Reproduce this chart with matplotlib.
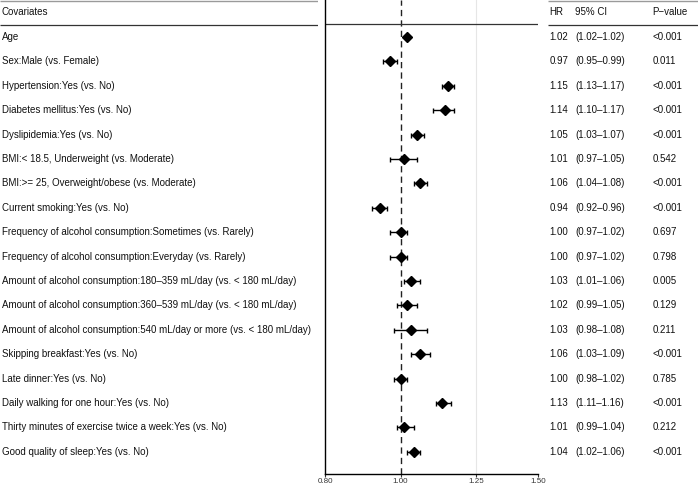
import matplotlib
matplotlib.use("Agg")
import matplotlib.pyplot as plt
from matplotlib.ticker import FixedLocator, NullLocator, FixedFormatter

plt.rcParams['font.family'] = ['Liberation Sans', 'DejaVu Sans']

covariates = [
    "Age",
    "Sex:Male (vs. Female)",
    "Hypertension:Yes (vs. No)",
    "Diabetes mellitus:Yes (vs. No)",
    "Dyslipidemia:Yes (vs. No)",
    "BMI:< 18.5, Underweight (vs. Moderate)",
    "BMI:>= 25, Overweight/obese (vs. Moderate)",
    "Current smoking:Yes (vs. No)",
    "Frequency of alcohol consumption:Sometimes (vs. Rarely)",
    "Frequency of alcohol consumption:Everyday (vs. Rarely)",
    "Amount of alcohol consumption:180\u2013359 mL/day (vs. < 180 mL/day)",
    "Amount of alcohol consumption:360\u2013539 mL/day (vs. < 180 mL/day)",
    "Amount of alcohol consumption:540 mL/day or more (vs. < 180 mL/day)",
    "Skipping breakfast:Yes (vs. No)",
    "Late dinner:Yes (vs. No)",
    "Daily walking for one hour:Yes (vs. No)",
    "Thirty minutes of exercise twice a week:Yes (vs. No)",
    "Good quality of sleep:Yes (vs. No)",
]
hr = [1.02, 0.97, 1.15, 1.14, 1.05, 1.01, 1.06, 0.94, 1.00, 1.00,
      1.03, 1.02, 1.03, 1.06, 1.00, 1.13, 1.01, 1.04]
ci_low = [1.02, 0.95, 1.13, 1.10, 1.03, 0.97, 1.04, 0.92, 0.97, 0.97,
          1.01, 0.99, 0.98, 1.03, 0.98, 1.11, 0.99, 1.02]
ci_high = [1.02, 0.99, 1.17, 1.17, 1.07, 1.05, 1.08, 0.96, 1.02, 1.02,
           1.06, 1.05, 1.08, 1.09, 1.02, 1.16, 1.04, 1.06]
p_values = ["<0.001", "0.011", "<0.001", "<0.001", "<0.001", "0.542", "<0.001",
            "<0.001", "0.697", "0.798", "0.005", "0.129", "0.211", "<0.001",
            "0.785", "<0.001", "0.212", "<0.001"]
x_ticks = [0.80, 1.00, 1.25, 1.50]
x_tick_labels = ["0.80", "1.00", "1.25", "1.50"]

W, H = 698, 486
fig = plt.figure(figsize=(W / 100, H / 100), dpi=100)

# row geometry in pixel space
row0, step = 37.0, 24.4
def yval(px):
    return (px - row0) / step

ytop = yval(0)
ybot_plot = yval(474)
ybot = yval(H)
y_header = yval(12)
y_hline = yval(24.5)
y_topline = yval(1.2)

n = len(covariates)
ys = list(range(n))
FS = 7.0

# ---------- left text panel ----------
axl = fig.add_axes([0, 0, 318 / W, 1])
axl.set_xlim(0, 318)
axl.set_ylim(ybot, ytop)
axl.axis('off')
axl.plot([0, 318], [y_topline, y_topline], color='#9a9a9a', lw=1.0, solid_capstyle='butt')
axl.plot([0, 318], [y_hline, y_hline], color='#333333', lw=0.9, solid_capstyle='butt')
axl.text(2, y_header, "Covariates", fontsize=FS, va='center', ha='left', color='#111111')
for y, c in zip(ys, covariates):
    axl.text(2, y, c, fontsize=FS, va='center', ha='left', color='#111111')

# ---------- forest plot panel ----------
axp = fig.add_axes([325 / W, 1 - 474 / H, (538 - 325) / W, 474 / H])
axp.set_xscale('log')
axp.set_xlim(0.80, 1.50)
axp.set_ylim(ybot_plot, ytop)
axp.axvline(1.25, color='#e6e6e6', lw=0.8, zorder=0)
axp.axvline(1.00, color='#222222', lw=1.0, ls=(0, (4.5, 3)), zorder=1)
axp.axhline(y_hline, color='#333333', lw=0.9)
xerr_lo = [h - l for h, l in zip(hr, ci_low)]
xerr_hi = [u - h for h, u in zip(hr, ci_high)]
axp.errorbar(hr, ys, xerr=[xerr_lo, xerr_hi], fmt='D', color='black',
             ms=5.5, elinewidth=1.0, capsize=1.8, capthick=1.0, zorder=3)
for s in ['top', 'right']:
    axp.spines[s].set_visible(False)
axp.spines['left'].set_linewidth(1.0)
axp.spines['bottom'].set_linewidth(1.0)
axp.yaxis.set_major_locator(NullLocator())
axp.yaxis.set_minor_locator(NullLocator())
axp.xaxis.set_major_locator(FixedLocator(x_ticks))
axp.xaxis.set_major_formatter(FixedFormatter(x_tick_labels))
axp.xaxis.set_minor_locator(NullLocator())
axp.tick_params(axis='x', labelsize=5.8, length=2, width=0.8, pad=0.6, colors='#333333')

# ---------- right table panel ----------
axr = fig.add_axes([548 / W, 0, (W - 548) / W, 1])
axr.set_xlim(548, W)
axr.set_ylim(ybot, ytop)
axr.axis('off')
axr.plot([548, W], [y_topline, y_topline], color='#9a9a9a', lw=1.0, solid_capstyle='butt')
axr.plot([548, W], [y_hline, y_hline], color='#333333', lw=0.9, solid_capstyle='butt')
x_hr, x_ci, x_p = 549.5, 575.5, 652.5
axr.text(x_hr, y_header, "HR", fontsize=FS, va='center', ha='left', color='#111111')
axr.text(x_ci, y_header, "95% CI", fontsize=FS, va='center', ha='left', color='#111111')
axr.text(x_p, y_header, "P\u2212value", fontsize=FS, va='center', ha='left', color='#111111')
for y, h, lo, hi, p in zip(ys, hr, ci_low, ci_high, p_values):
    axr.text(x_hr, y, f"{h:.2f}", fontsize=FS, va='center', ha='left', color='#111111')
    axr.text(x_ci, y, f"({lo:.2f}\u2013{hi:.2f})", fontsize=FS, va='center', ha='left', color='#111111')
    axr.text(x_p, y, p, fontsize=FS, va='center', ha='left', color='#111111')

fig.savefig("out.png", dpi=100)
